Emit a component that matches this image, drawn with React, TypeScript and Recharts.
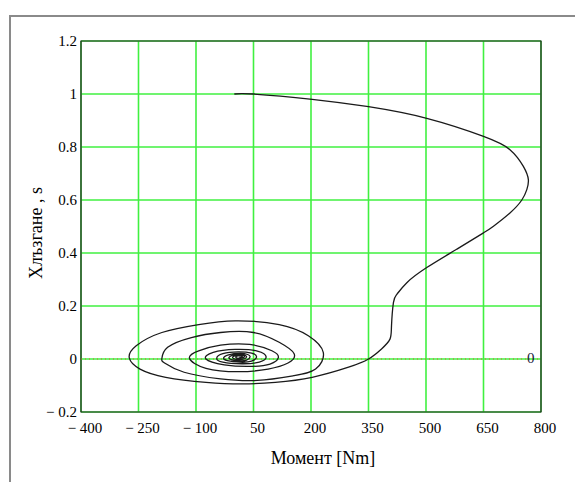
import React from 'react';
import { LineChart, Line, XAxis, YAxis, CartesianGrid, ReferenceLine, ReferenceArea } from 'recharts';

// Moment [Nm] vs slip s in drawing order
const MAIN_X = [0, 50, 203, 350, 502, 650, 719, 754, 767, 763, 750, 719, 676, 650, 580, 502, 450, 424, 415, 410, 406, 384, 350];
const MAIN_Y = [1, 1, 0.98, 0.952, 0.908, 0.84, 0.79, 0.727, 0.677, 0.639, 0.6, 0.551, 0.501, 0.476, 0.414, 0.345, 0.288, 0.244, 0.213, 0.125, 0.075, 0.038, 0];

const SPIRAL_X = [
  298, 203, 107, 21, -74, -179, -246, -274, -256, -189, -93, 2, 117, 193, 232,
  212, 155, 60, -36, -131, -182, -189, -174, -112, -36, 50, 117, 156,
  140, 88, 12, -74, -117, -93, -36, 40, 98, 115,
  93, 40, -26, -74, -55, 2, 60, 83,
  65, 20, -30, -46, -30, 10, 45, 58,
  45, 15, -18, -28, -15, 15, 35, 41,
  32, 12, -8, -14, -4, 15, 28, 32,
  25, 10, -2, -4, 4, 16, 24, 26,
  20, 10, 4, 6, 14, 20, 20, 15, 12,
];
const SPIRAL_Y = [
  -0.031, -0.069, -0.088, -0.094, -0.088, -0.069, -0.038, 0.004, 0.05, 0.1, 0.13, 0.144, 0.13, 0.088, 0.025,
  -0.038, -0.063, -0.081, -0.075, -0.05, -0.015, 0.002, 0.044, 0.081, 0.1, 0.1, 0.063, 0.02,
  -0.015, -0.038, -0.048, -0.035, 0.003, 0.031, 0.052, 0.055, 0.031, 0.006,
  -0.019, -0.028, -0.022, 0.0, 0.025, 0.036, 0.03, 0.008,
  -0.012, -0.018, -0.012, 0.003, 0.02, 0.027, 0.022, 0.008,
  -0.008, -0.012, -0.006, 0.004, 0.016, 0.021, 0.017, 0.008,
  -0.004, -0.007, -0.002, 0.006, 0.015, 0.018, 0.014, 0.008,
  0.0, -0.002, 0.002, 0.008, 0.014, 0.016, 0.013, 0.008,
  0.003, 0.002, 0.006, 0.011, 0.013, 0.011, 0.008, 0.006, 0.008,
];

const X_TICKS = [-400, -250, -100, 50, 200, 350, 500, 650, 800];
const Y_TICKS = [-0.2, 0, 0.2, 0.4, 0.6, 0.8, 1, 1.2];

const data = [
  ...MAIN_X.map((x, i) => ({ x, y: MAIN_Y[i] })),
  ...SPIRAL_X.map((x, i) => ({ x, y: SPIRAL_Y[i] })),
];

const FONT = '"Liberation Serif", "Times New Roman", serif';
const fmt = (v: number) => (v < 0 ? '\u2212 ' + Math.abs(v) : String(v));

export default function App() {
  return (
    <div style={{ position: 'absolute', left: 0, top: 0, width: 575, height: 482, background: '#fff', overflow: 'hidden', fontFamily: FONT }}>
      <div style={{ position: 'absolute', left: 9, top: 15, width: 566, height: 467, borderLeft: '2px solid #8a8a8a', borderTop: '2px solid #8a8a8a', boxSizing: 'border-box' }} />
      <LineChart width={575} height={482} data={data} margin={{ top: 41, right: 34, bottom: 0, left: 0 }} style={{ fontFamily: FONT }}>
        <CartesianGrid stroke="#40f040" strokeWidth={1.6} />
        <XAxis
          type="number"
          dataKey="x"
          domain={[-400, 800]}
          ticks={X_TICKS}
          allowDataOverflow
          height={70}
          tickSize={0}
          tickMargin={10}
          axisLine={false}
          tickFormatter={fmt}
          tick={{ fill: '#000', fontSize: 15, fontFamily: FONT, dx: 4 }}
        />
        <YAxis
          type="number"
          domain={[-0.2, 1.2]}
          ticks={Y_TICKS}
          allowDataOverflow
          width={81}
          tickSize={0}
          tickMargin={4}
          axisLine={false}
          tickFormatter={fmt}
          tick={{ fill: '#000', fontSize: 15, fontFamily: FONT }}
        />
        <ReferenceLine y={0} stroke="#c86a2a" strokeDasharray="1 3" strokeWidth={1} />
        <ReferenceArea x1={-400} x2={800} y1={-0.2} y2={1.2} fill="none" stroke="#222" strokeWidth={1.2} />
        <Line
          type="natural"
          dataKey="y"
          stroke="#1a1a1a"
          strokeWidth={1.3}
          dot={false}
          isAnimationActive={false}
        />
      </LineChart>
      <div style={{ position: 'absolute', left: 527, top: 350, fontFamily: FONT, fontSize: 15, color: '#1a1a40' }}>0</div>
      <div style={{ position: 'absolute', left: 223, top: 448, width: 200, textAlign: 'center', fontFamily: FONT, fontSize: 18, color: '#000' }}>
        Момент [Nm]
      </div>
      <div style={{ position: 'absolute', left: 36, top: 233, width: 160, transform: 'translate(-50%, -50%) rotate(-90deg)', textAlign: 'center', fontFamily: FONT, fontSize: 18, color: '#000', whiteSpace: 'nowrap' }}>
        Хлъзгане , s
      </div>
    </div>
  );
}
